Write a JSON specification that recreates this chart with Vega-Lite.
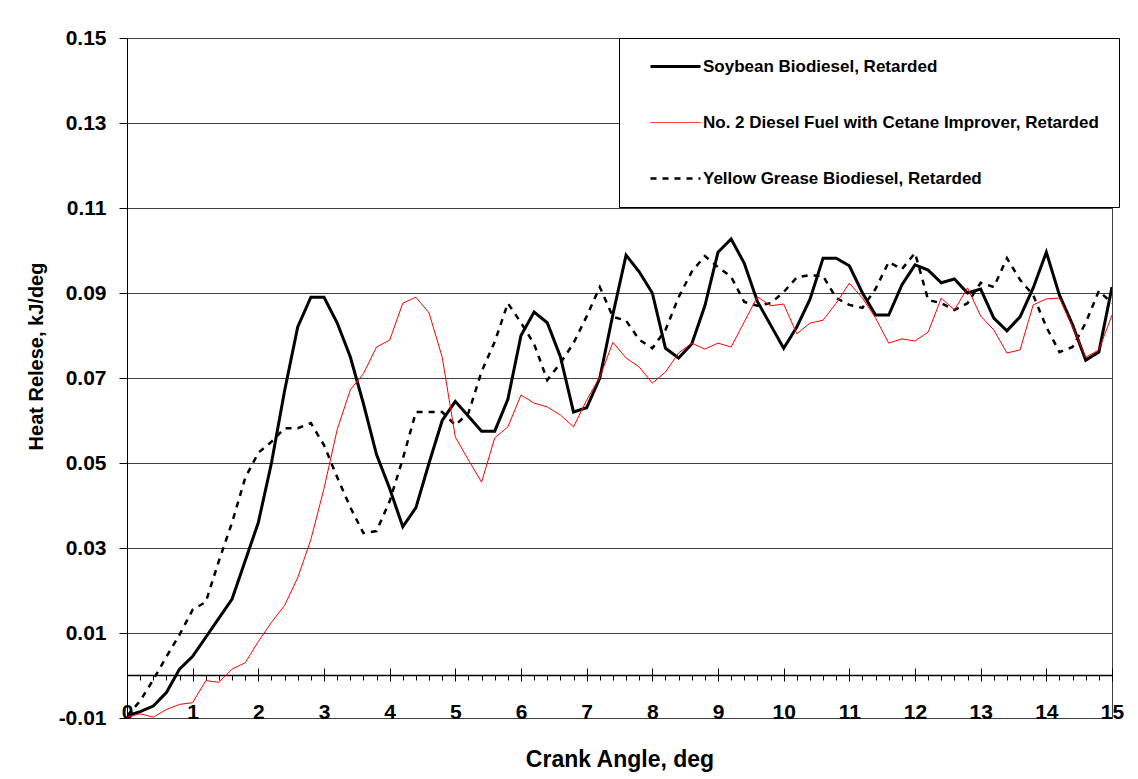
{
  "$schema": "https://vega.github.io/schema/vega-lite/v6.json",
  "width": 985,
  "height": 680,
  "autosize": {"type": "none"},
  "padding": {"left": 127, "top": 38, "right": 26, "bottom": 61},
  "background": "white",
  "config": {
    "view": {"stroke": "#404040", "strokeWidth": 1},
    "font": "Liberation Sans"
  },
  "data": {
    "values": [
      {"a": 0, "SOY": -0.0095, "D2": -0.0098, "YG": -0.0095},
      {"a": 0.2, "SOY": -0.0085, "D2": -0.009, "YG": -0.006},
      {"a": 0.4, "SOY": -0.0072, "D2": -0.0098, "YG": -0.001},
      {"a": 0.6, "SOY": -0.004, "D2": -0.008, "YG": 0.0044},
      {"a": 0.8, "SOY": 0.0015, "D2": -0.0068, "YG": 0.0096},
      {"a": 1.0, "SOY": 0.0045, "D2": -0.0064, "YG": 0.0155},
      {"a": 1.2, "SOY": 0.009, "D2": -0.0012, "YG": 0.0173},
      {"a": 1.4, "SOY": 0.0135, "D2": -0.0016, "YG": 0.027},
      {"a": 1.6, "SOY": 0.018, "D2": 0.0015, "YG": 0.036},
      {"a": 1.8, "SOY": 0.027, "D2": 0.003, "YG": 0.0465},
      {"a": 2.0, "SOY": 0.036, "D2": 0.008, "YG": 0.0524},
      {"a": 2.2, "SOY": 0.05, "D2": 0.0125, "YG": 0.055},
      {"a": 2.4, "SOY": 0.067, "D2": 0.0165, "YG": 0.0582},
      {"a": 2.6, "SOY": 0.082, "D2": 0.023, "YG": 0.0582},
      {"a": 2.8, "SOY": 0.089, "D2": 0.032, "YG": 0.0594},
      {"a": 3.0, "SOY": 0.089, "D2": 0.044, "YG": 0.0542},
      {"a": 3.2, "SOY": 0.083, "D2": 0.0578, "YG": 0.0467},
      {"a": 3.4, "SOY": 0.075, "D2": 0.0672, "YG": 0.0396},
      {"a": 3.6, "SOY": 0.064, "D2": 0.071, "YG": 0.0335},
      {"a": 3.8, "SOY": 0.052, "D2": 0.0773, "YG": 0.034},
      {"a": 4.0, "SOY": 0.044, "D2": 0.0789, "YG": 0.041},
      {"a": 4.2, "SOY": 0.035, "D2": 0.0876, "YG": 0.051},
      {"a": 4.4, "SOY": 0.0395, "D2": 0.089, "YG": 0.062},
      {"a": 4.6, "SOY": 0.05, "D2": 0.0853, "YG": 0.062},
      {"a": 4.8, "SOY": 0.06, "D2": 0.0749, "YG": 0.062},
      {"a": 5.0, "SOY": 0.0645, "D2": 0.0561, "YG": 0.0589},
      {"a": 5.2, "SOY": 0.061, "D2": 0.0507, "YG": 0.0618},
      {"a": 5.4, "SOY": 0.0575, "D2": 0.0455, "YG": 0.0715},
      {"a": 5.6, "SOY": 0.0575, "D2": 0.0559, "YG": 0.0785},
      {"a": 5.8, "SOY": 0.065, "D2": 0.0585, "YG": 0.0876},
      {"a": 6.0, "SOY": 0.08, "D2": 0.066, "YG": 0.083},
      {"a": 6.2, "SOY": 0.0855, "D2": 0.0641, "YG": 0.078},
      {"a": 6.4, "SOY": 0.083, "D2": 0.0632, "YG": 0.0695},
      {"a": 6.6, "SOY": 0.075, "D2": 0.0613, "YG": 0.0735},
      {"a": 6.8, "SOY": 0.062, "D2": 0.0585, "YG": 0.0782},
      {"a": 7.0, "SOY": 0.063, "D2": 0.0648, "YG": 0.0845},
      {"a": 7.2, "SOY": 0.07, "D2": 0.0702, "YG": 0.0914},
      {"a": 7.4, "SOY": 0.085, "D2": 0.0784, "YG": 0.0844},
      {"a": 7.6, "SOY": 0.0989, "D2": 0.0747, "YG": 0.0835},
      {"a": 7.8, "SOY": 0.095, "D2": 0.0726, "YG": 0.079},
      {"a": 8.0, "SOY": 0.09, "D2": 0.0688, "YG": 0.077},
      {"a": 8.2, "SOY": 0.077, "D2": 0.0714, "YG": 0.0813},
      {"a": 8.4, "SOY": 0.0747, "D2": 0.0759, "YG": 0.089},
      {"a": 8.6, "SOY": 0.078, "D2": 0.0782, "YG": 0.095},
      {"a": 8.8, "SOY": 0.087, "D2": 0.0768, "YG": 0.0987},
      {"a": 9.0, "SOY": 0.0996, "D2": 0.0782, "YG": 0.0961},
      {"a": 9.2, "SOY": 0.1027, "D2": 0.0773, "YG": 0.0938},
      {"a": 9.4, "SOY": 0.097, "D2": 0.0832, "YG": 0.0879},
      {"a": 9.6, "SOY": 0.088, "D2": 0.0891, "YG": 0.087},
      {"a": 9.8, "SOY": 0.0825, "D2": 0.087, "YG": 0.0876},
      {"a": 10.0, "SOY": 0.077, "D2": 0.0874, "YG": 0.0902},
      {"a": 10.2, "SOY": 0.082, "D2": 0.0804, "YG": 0.0937},
      {"a": 10.4, "SOY": 0.0885, "D2": 0.0829, "YG": 0.0942},
      {"a": 10.6, "SOY": 0.0982, "D2": 0.0836, "YG": 0.094},
      {"a": 10.8, "SOY": 0.0982, "D2": 0.0876, "YG": 0.0888},
      {"a": 11.0, "SOY": 0.0964, "D2": 0.0923, "YG": 0.0872},
      {"a": 11.2, "SOY": 0.09, "D2": 0.0888, "YG": 0.0865},
      {"a": 11.4, "SOY": 0.0848, "D2": 0.0841, "YG": 0.091},
      {"a": 11.6, "SOY": 0.0848, "D2": 0.0782, "YG": 0.0973},
      {"a": 11.8, "SOY": 0.0919, "D2": 0.0792, "YG": 0.0956},
      {"a": 12.0, "SOY": 0.0966, "D2": 0.0787, "YG": 0.0994},
      {"a": 12.2, "SOY": 0.0954, "D2": 0.0808, "YG": 0.0884},
      {"a": 12.4, "SOY": 0.0924, "D2": 0.0888, "YG": 0.0876},
      {"a": 12.6, "SOY": 0.0933, "D2": 0.086, "YG": 0.086},
      {"a": 12.8, "SOY": 0.09, "D2": 0.0912, "YG": 0.0876},
      {"a": 13.0, "SOY": 0.0909, "D2": 0.0846, "YG": 0.0924},
      {"a": 13.2, "SOY": 0.0841, "D2": 0.0813, "YG": 0.0914},
      {"a": 13.4, "SOY": 0.0811, "D2": 0.0759, "YG": 0.0982},
      {"a": 13.6, "SOY": 0.0844, "D2": 0.0766, "YG": 0.0931},
      {"a": 13.8, "SOY": 0.0912, "D2": 0.0872, "YG": 0.0895},
      {"a": 14.0, "SOY": 0.0996, "D2": 0.0886, "YG": 0.082},
      {"a": 14.2, "SOY": 0.0895, "D2": 0.0888, "YG": 0.0761},
      {"a": 14.4, "SOY": 0.0825, "D2": 0.082, "YG": 0.0773},
      {"a": 14.6, "SOY": 0.0742, "D2": 0.0749, "YG": 0.083},
      {"a": 14.8, "SOY": 0.0761, "D2": 0.0766, "YG": 0.0905},
      {"a": 15.0, "SOY": 0.0914, "D2": 0.0848, "YG": 0.0876}
    ]
  },
  "transform": [{"fold": ["SOY", "D2", "YG"], "as": ["series", "value"]}],
  "layer": [
    {
      "transform": [{"filter": "datum.series === 'YG'"}],
      "mark": {"type": "line", "clip": true, "strokeWidth": 2.5},
      "encoding": {
        "x": {
          "field": "a", "type": "quantitative",
          "scale": {"domain": [0, 15], "nice": false, "zero": false},
          "axis": {
            "orient": "bottom", "offset": -43,
            "values": [0,0.2,0.4,0.6,0.8,1,1.2,1.4,1.6,1.8,2,2.2,2.4,2.6,2.8,3,3.2,3.4,3.6,3.8,4,4.2,4.4,4.6,4.8,5,5.2,5.4,5.6,5.8,6,6.2,6.4,6.6,6.8,7,7.2,7.4,7.6,7.8,8,8.2,8.4,8.6,8.8,9,9.2,9.4,9.6,9.8,10,10.2,10.4,10.6,10.8,11,11.2,11.4,11.6,11.8,12,12.2,12.4,12.6,12.8,13,13.2,13.4,13.6,13.8,14,14.2,14.4,14.6,14.8,15],
            "tickSize": 5, "tickColor": "black", "labels": false, "domain": false, "grid": false, "title": null
          }
        },
        "y": {
          "field": "value", "type": "quantitative",
          "scale": {"domain": [-0.01, 0.15], "nice": false, "zero": false},
          "axis": {
            "values": [-0.01, 0.01, 0.03, 0.05, 0.07, 0.09, 0.11, 0.13, 0.15],
            "labelExpr": "replace(format(datum.value, '.2f'), '\u2212', '-')",
            "title": "Heat Relese, kJ/deg",
            "grid": true, "gridColor": "#404040", "gridOpacity": 1, "gridWidth": 1,
            "domainColor": "black", "tickColor": "black", "tickSize": 8,
            "labelPadding": 13, "labelFontSize": 21, "labelFontWeight": "bold", "labelColor": "black", "labelFont": "Liberation Sans",
            "titleFontSize": 20, "titleFontWeight": "bold", "titleColor": "black", "titleFont": "Liberation Sans",
            "titleX": -91, "titleY": 318, "titleAngle": -90, "titleBaseline": "middle", "titleAlign": "center"
          }
        },
        "color": {
          "field": "series", "type": "nominal",
          "scale": {"domain": ["SOY", "D2", "YG"], "range": ["#000000", "#ff0000", "#000000"]},
          "legend": {
            "orient": "none", "legendX": 492, "legendY": 0, "title": null,
            "strokeColor": "black", "fillColor": "white", "padding": 20, "rowPadding": 38,
            "symbolType": "stroke", "symbolSize": 256, "symbolOffset": 28,
            "labelFont": "Liberation Sans", "labelFontSize": 17, "labelFontWeight": "bold", "labelColor": "black", "labelLimit": 600, "labelOffset": 19,
            "labelExpr": "datum.label === 'SOY' ? 'Soybean Biodiesel, Retarded' : datum.label === 'D2' ? 'No. 2 Diesel Fuel with Cetane Improver, Retarded' : 'Yellow Grease Biodiesel, Retarded'",
            "encode": {
              "symbols": {
                "update": {
                  "size": {"value": 2500},
                  "strokeWidth": {"signal": "datum.value === 'D2' ? 1 : datum.value === 'SOY' ? 3 : 2.5"},
                  "strokeDash": {"signal": "datum.value === 'YG' ? [6, 6] : [1, 0]"}
                }
              }
            }
          }
        },
        "strokeDash": {
          "field": "series", "type": "nominal",
          "scale": {"domain": ["SOY", "D2", "YG"], "range": [[1, 0], [1, 0], [6, 6]]},
          "legend": null
        }
      }
    },
    {
      "transform": [{"filter": "datum.series === 'SOY'"}],
      "mark": {"type": "line", "clip": true, "strokeWidth": 3, "color": "#000000"},
      "encoding": {
        "x": {
          "field": "a", "type": "quantitative",
          "scale": {"domain": [0, 15], "nice": false, "zero": false},
          "axis": {
            "orient": "bottom", "offset": -43,
            "values": [0,1,2,3,4,5,6,7,8,9,10,11,12,13,14,15], "format": "d",
            "tickSize": 6, "tickColor": "black", "domainColor": "black", "domainWidth": 1.5,
            "labelPadding": 20, "labelFontSize": 21, "labelFontWeight": "bold", "labelColor": "black", "labelFont": "Liberation Sans",
            "labelFlush": false, "labelOverlap": false, "grid": false,
            "title": "Crank Angle, deg", "titleFontSize": 23, "titleFontWeight": "bold", "titleColor": "black", "titleFont": "Liberation Sans",
            "titleY": 91, "titleBaseline": "alphabetic"
          }
        },
        "y": {"field": "value", "type": "quantitative"}
      }
    },
    {
      "transform": [{"filter": "datum.series === 'D2'"}],
      "mark": {"type": "line", "clip": true, "strokeWidth": 1, "color": "#ff0000"},
      "encoding": {
        "x": {
          "field": "a", "type": "quantitative",
          "scale": {"domain": [0, 15], "nice": false, "zero": false},
          "axis": {
            "orient": "bottom", "offset": -43,
            "values": [0,1,2,3,4,5,6,7,8,9,10,11,12,13,14,15],
            "tickSize": -7, "tickColor": "black", "labels": false, "domain": false, "grid": false, "title": null
          }
        },
        "y": {"field": "value", "type": "quantitative"}
      }
    }
  ],
  "resolve": {"axis": {"x": "independent"}}
}
